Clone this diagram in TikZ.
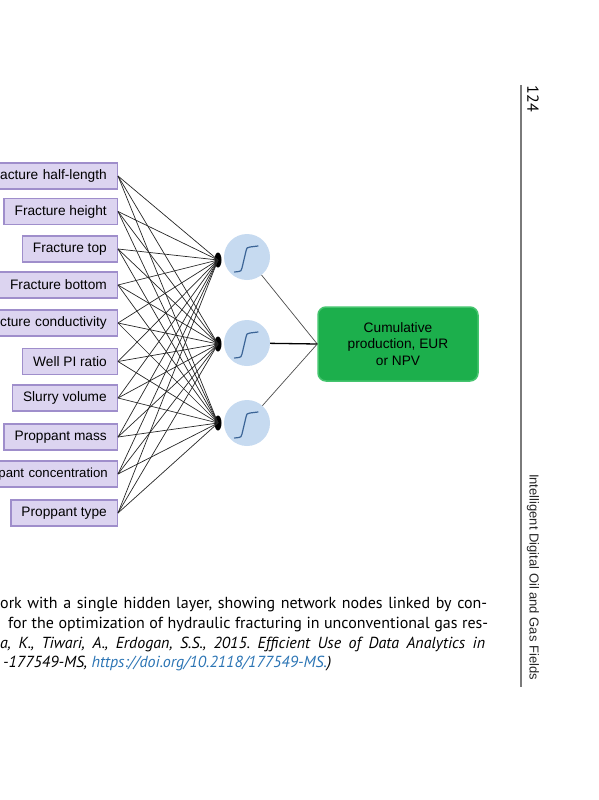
\documentclass[tikz,border=0pt]{standalone}
\usepackage{fontspec}
\setmainfont{Liberation Sans}
\newfontfamily\capfont{PT Sans}
\usetikzlibrary{shapes.geometric,arrows.meta}
\definecolor{boxfill}{HTML}{DCD4F0}
\definecolor{boxdraw}{HTML}{9F8ECB}
\definecolor{neuron}{HTML}{C6DAF0}
\definecolor{sigm}{HTML}{3B6496}
\definecolor{outgreen}{HTML}{1CAF4C}
\definecolor{outedge}{HTML}{45C46E}
\definecolor{linkblue}{HTML}{2B74B4}
\definecolor{rulegray}{HTML}{7A7A7A}
\frenchspacing
\begin{document}
\begin{tikzpicture}[x=1pt,y=-1pt,
  inbox/.style={draw=boxdraw, fill=boxfill, line width=1.4pt, anchor=east,
    inner xsep=10.5pt, minimum height=26pt, font=\fontsize{13.7}{16}\selectfont},
  cutbox/.style={inbox, text width=140pt, align=right},
  hid/.style={circle, fill=neuron, minimum size=46pt, inner sep=0pt},
  blob/.style={ellipse, fill=black, minimum width=7pt, minimum height=15pt, inner sep=0pt},
  wire/.style={black!85, line width=0.7pt},
  owire/.style={black!70, line width=0.7pt},
  mainwire/.style={black, line width=1.3pt},
  sigline/.style={sigm, line width=1.2pt, line cap=round, line join=round},
  outbox/.style={rounded corners=8pt, fill=outgreen, draw=outedge, line width=1.5pt,
    minimum width=160pt, minimum height=74pt, align=center,
    font=\fontsize{13.7}{16.7}\selectfont},
  capline/.style={anchor=base west, inner sep=0pt, font=\capfont\fontsize{16}{16}\selectfont},
  sidetext/.style={rotate=-90, inner sep=0pt}
]
\useasboundingbox (0,0) rectangle (599,800);
\clip (0,0) rectangle (599,800);

% input nodes
\node[cutbox] (i1) at (118,176) {acture half-length};
\node[inbox] (i2) at (118,211.5) {Fracture height};
\node[inbox] (i3) at (118,249) {Fracture top};
\node[inbox] (i4) at (118,285) {Fracture bottom};
\node[cutbox] (i5) at (118,323) {cture conductivity};
\node[inbox] (i6) at (118,361.5) {Well PI ratio};
\node[inbox] (i7) at (118,398) {Slurry volume};
\node[inbox] (i8) at (118,437) {Proppant mass};
\node[cutbox, font=\fontsize{13.2}{16}\selectfont, inner xsep=9.5pt] (i9) at (118,474) {pant concentration};
\node[inbox] (i10) at (118,513) {Proppant type};

% hidden neurons
\node[hid] (h1) at (247,257) {};
\node[hid] (h2) at (247,343) {};
\node[hid] (h3) at (247,423) {};
\node[blob] (b1) at (218,260) {};
\node[blob] (b2) at (218,344) {};
\node[blob] (b3) at (218,423) {};

% wires
\foreach \i in {1,...,10}
  \foreach \j in {1,2,3}
    \draw[wire] (i\i.east) -- (b\j.center);

% sigmoid glyphs
\foreach \j in {1,2,3}{
  \begin{scope}[shift={(h\j.center)}]
    \draw[sigline] (-12.5,15) -- (-8,14.5) .. controls (-6,14) .. (-5,11)
      -- (-1,-6) .. controls (0,-9.5) .. (3,-10) -- (11,-11);
  \end{scope}
}

% output
\node[outbox] (out) at (398,344) {Cumulative\\production, EUR\\or NPV};
\draw[owire] (h1) -- (out.west);
\draw[mainwire] (h2) -- (out.west);
\draw[owire] (h3) -- (out.west);

% side header
\coordinate (r1) at (521,85);
\coordinate (r2) at (521,687);
\draw[rulegray, line width=1.5pt] (r1) -- (r2);
\node[sidetext, font=\capfont\fontsize{16}{16}\selectfont] (pg) at (533,99) {124};
\node[sidetext, font=\fontsize{13}{13}\selectfont, text=black!85] (ttl) at (533,577)
  {Intelligent Digital Oil and Gas Fields};

% caption
\node[capline] (c1) at (0,608)
  {\makebox[487pt][s]{ork with a single hidden layer, showing network nodes linked by con-}};
\node[capline] (c2) at (8,628)
  {\makebox[480pt][s]{for the optimization of hydraulic fracturing in unconventional gas res-}};
\node[capline] (c3) at (0,648)
  {\itshape\makebox[485pt][s]{a, K., Tiwari, A., Erdogan, S.S., 2015. Efficient Use of Data Analytics in}};
\node[capline] (c4) at (3,667)
  {\itshape -177549-MS, \textcolor{linkblue}{https://doi.org/10.2118/177549-MS.})};
\end{tikzpicture}
\end{document}
